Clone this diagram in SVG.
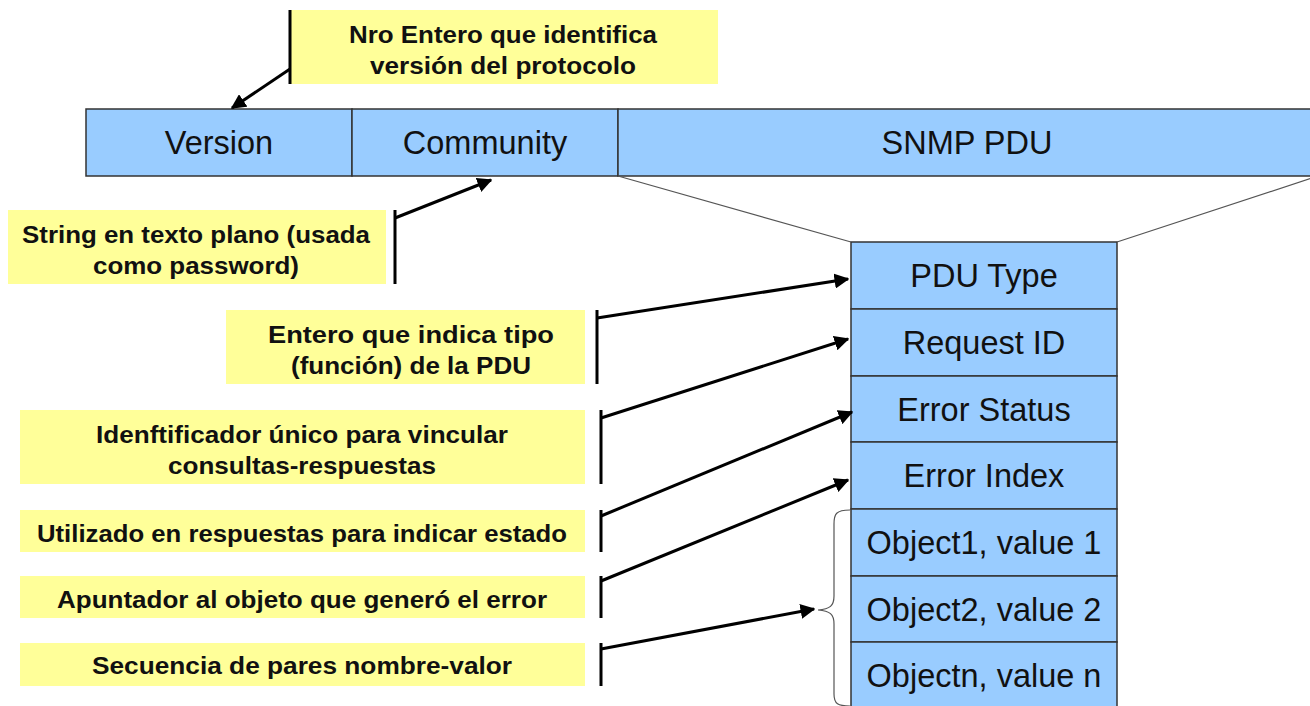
<svg xmlns="http://www.w3.org/2000/svg" width="1310" height="706" viewBox="0 0 1310 706">
<style>
.blue{fill:#99ccff;stroke:#333;stroke-width:1.5}
.yel{fill:#ffff99;stroke:none}
.t{font-family:"Liberation Sans",Arial,sans-serif;font-size:32.5px;fill:#111;text-anchor:middle}
.n{font-family:"Liberation Sans",Arial,sans-serif;font-size:24.5px;font-weight:bold;fill:#111;text-anchor:middle}
.bar{stroke:#000;stroke-width:3;fill:none}
.arr{stroke:#000;stroke-width:3;fill:none;marker-end:url(#ah)}
.thin{stroke:#555;stroke-width:1.2;fill:none}
</style>
<defs>
<marker id="ah" viewBox="0 0 10 10" refX="9" refY="5" markerWidth="5" markerHeight="5" orient="auto" markerUnits="strokeWidth">
<path d="M0,0 L10,5 L0,10 z" fill="#000"/>
</marker>
</defs>
<g id="top-bar">
<g id="version"><rect class="blue" x="86" y="109" width="266" height="67"/><text class="t" x="219" y="154">Version</text></g>
<g id="community"><rect class="blue" x="352" y="109" width="266" height="67"/><text class="t" x="485" y="154">Community</text></g>
<g id="snmp-pdu"><rect class="blue" x="618" y="109" width="700" height="67"/><text class="t" x="967" y="154">SNMP PDU</text></g>
</g>
<g id="pdu-fields">
<g id="pdu-type"><rect class="blue" x="851" y="242" width="266" height="67"/><text class="t" x="984" y="287">PDU Type</text></g>
<g id="request-id"><rect class="blue" x="851" y="309" width="266" height="67"/><text class="t" x="984" y="354">Request ID</text></g>
<g id="error-status"><rect class="blue" x="851" y="376" width="266" height="66"/><text class="t" x="984" y="421">Error Status</text></g>
<g id="error-index"><rect class="blue" x="851" y="442" width="266" height="67"/><text class="t" x="984" y="487">Error Index</text></g>
<g id="obj1"><rect class="blue" x="851" y="509" width="266" height="67"/><text class="t" x="984" y="554">Object1, value 1</text></g>
<g id="obj2"><rect class="blue" x="851" y="576" width="266" height="66"/><text class="t" x="984" y="621">Object2, value 2</text></g>
<g id="objn"><rect class="blue" x="851" y="642" width="266" height="70"/><text class="t" x="984" y="687">Objectn, value n</text></g>
</g>
<g id="note-version"><rect class="yel" x="290" y="10" width="428" height="74"/><text class="n" x="503" y="43" textLength="308" lengthAdjust="spacingAndGlyphs">Nro Entero que identifica</text><text class="n" x="503" y="74" textLength="266" lengthAdjust="spacingAndGlyphs">versión del protocolo</text></g>
<g id="note-community"><rect class="yel" x="8" y="210" width="378" height="74"/><text class="n" x="196" y="243" textLength="348" lengthAdjust="spacingAndGlyphs">String en texto plano (usada</text><text class="n" x="196" y="274" textLength="206" lengthAdjust="spacingAndGlyphs">como password)</text></g>
<g id="note-pdutype"><rect class="yel" x="226" y="310" width="359" height="74"/><text class="n" x="411" y="343" textLength="286" lengthAdjust="spacingAndGlyphs">Entero que indica tipo</text><text class="n" x="411" y="374" textLength="240" lengthAdjust="spacingAndGlyphs">(función) de la PDU</text></g>
<g id="note-requestid"><rect class="yel" x="20" y="410" width="565" height="74"/><text class="n" x="302" y="443" textLength="412" lengthAdjust="spacingAndGlyphs">Idenftificador único para vincular</text><text class="n" x="302" y="474" textLength="268" lengthAdjust="spacingAndGlyphs">consultas-respuestas</text></g>
<g id="note-errorstatus"><rect class="yel" x="20" y="510" width="565" height="42"/><text class="n" x="302" y="542" textLength="530" lengthAdjust="spacingAndGlyphs">Utilizado en respuestas para indicar estado</text></g>
<g id="note-errorindex"><rect class="yel" x="20" y="576" width="565" height="42"/><text class="n" x="302" y="608" textLength="490" lengthAdjust="spacingAndGlyphs">Apuntador al objeto que generó el error</text></g>
<g id="note-varbinds"><rect class="yel" x="20" y="643" width="565" height="43"/><text class="n" x="302" y="674" textLength="420" lengthAdjust="spacingAndGlyphs">Secuencia de pares nombre-valor</text></g>
<g id="connectors">
<path class="thin" d="M618,176 L851,242 M1117,242 L1312,178"/>
<path class="thin" d="M850,510 C836,510 834,514 834,524 L834,596 C834,606 830,609 818,610 C830,611 834,614 834,624 L834,694 C834,704 838,706 850,706"/>
<path class="bar" d="M290,10 V84 M395,210 V284 M597,310 V384 M601,410 V484 M601,510 V552 M601,576 V618 M601,643 V686"/>
<path class="arr" d="M290,69 L232,108"/>
<path class="arr" d="M395,218 L491,180"/>
<path class="arr" d="M597,318 L848,279"/>
<path class="arr" d="M601,418 L848,339"/>
<path class="arr" d="M601,516 L852,412"/>
<path class="arr" d="M601,581 L848,480"/>
<path class="arr" d="M601,649 L814,609"/>
</g>
</svg>
